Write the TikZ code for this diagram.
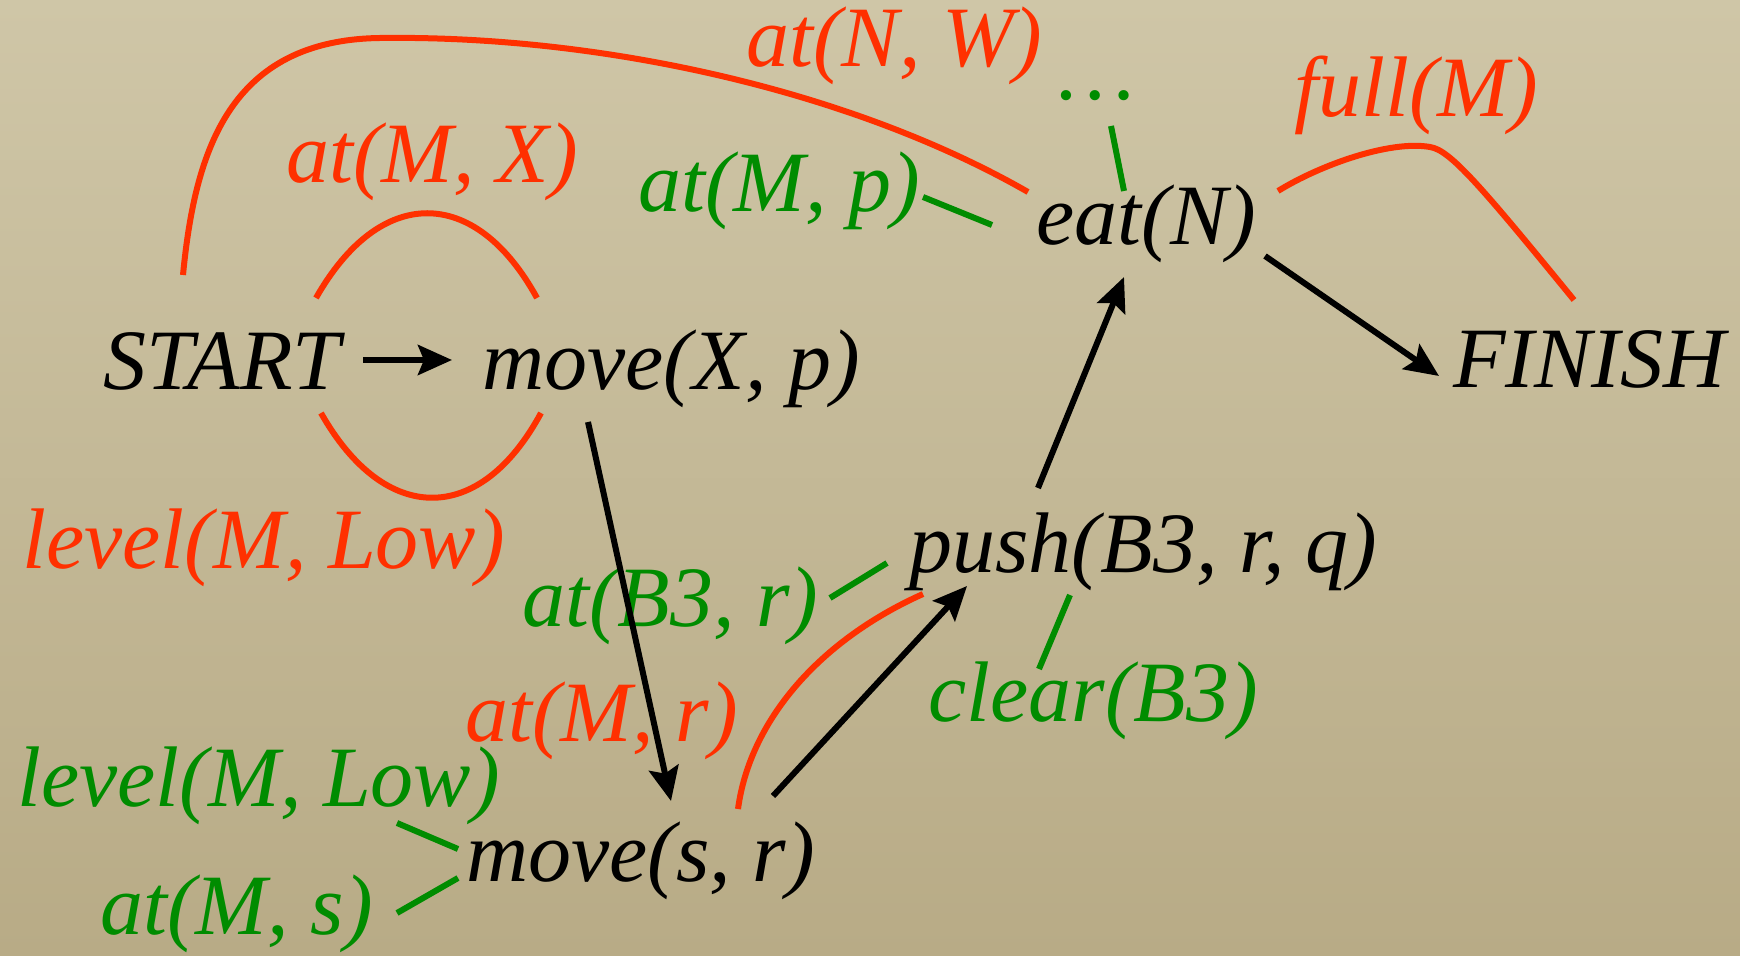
\documentclass[tikz,border=0pt]{standalone}
\usepackage{fontspec}
\setmainfont{Liberation Serif}
\usetikzlibrary{arrows.meta,calc}
\definecolor{bgtop}{RGB}{207,198,167}
\definecolor{bgbot}{RGB}{184,171,134}
\definecolor{threat}{RGB}{255,48,0}
\definecolor{precond}{RGB}{0,140,0}

\begin{document}
\begin{tikzpicture}[x=0.5pt,y=-0.5pt,
  txt/.style={anchor=base west,inner sep=0pt,font=\fontsize{43}{50}\selectfont\itshape},
  stepnode/.style={txt,text=black},
  redlbl/.style={txt,text=threat},
  grnlbl/.style={txt,text=precond},
  ord/.style={line width=3pt,-{Stealth[length=17pt,width=15pt,inset=3pt]}},
  causal/.style={line width=3pt,draw=threat},
  pre/.style={line width=3pt,draw=precond}]

% paper background
\shade[top color=bgtop,bottom color=bgbot] (0,0) rectangle (1740,956);
\useasboundingbox (0,0) rectangle (1740,956);

% plan steps
\node[stepnode] (start)   at (103,390) {START};
\node[stepnode] (movexp)  at (482,390) {move(X, p)};
\node[stepnode] (eat)     at (1036,245) {eat(N)};
\node[stepnode] (finish)  at (1453,388) {FINISH};
\node[stepnode] (push)    at (909,573) {push(B3, r, q)};
\node[stepnode] (moversr) at (466,881) {move(s, r)};

% causal-link conditions
\node[redlbl] (atMX)    at (286,183) {at(M, X)};
\node[redlbl] (lvlLowR) at (22,569)  {level(M, Low)};
\node[redlbl] (atNW)    at (746,67)  {at(N, W)};
\node[redlbl] (fullM)   at (1294,117) {full(M)};
\node[redlbl] (atMr)    at (465,741) {at(M, r)};

% open preconditions
\node[grnlbl] (atMp)    at (638,212) {at(M, p)};
\node[grnlbl] (dots)    at (1058,100) {\ldots};
\node[grnlbl] (atB3r)   at (522,626) {at(B3, r)};
\node[grnlbl] (clearB3) at (928,721) {clear(B3)};
\node[grnlbl] (lvlLowG) at (17,806)  {level(M, Low)};
\node[grnlbl] (atMs)    at (100,934) {at(M, s)};

% ordering constraints
\draw[ord] ($(start.base west)+(260,-30)$) -- ($(movexp.base west)+(-30,-30)$);
\draw[ord] ($(movexp.base west)+(106,32)$) -- ($(moversr.base west)+(205,-80)$);
\draw[ord] ($(moversr.base west)+(307,-85)$) -- ($(push.base west)+(58,13)$);
\draw[ord] ($(push.base west)+(129,-85)$) -- ($(eat.base west)+(88,32)$);
\draw[ord] ($(eat.base west)+(229,11)$) -- ($(finish.base west)+(-14,-12)$);

% causal links
\draw[causal] ($(start.base west)+(213,-92)$) .. controls (380,185) and (475,185) .. ($(movexp.base west)+(55,-92)$);
\draw[causal] ($(start.base west)+(218,23)$) .. controls (385,526) and (480,526) .. ($(movexp.base west)+(59,23)$);
\draw[causal] ($(start.base west)+(80,-115)$) .. controls (195,150) and (230,40) .. (380,38)
   .. controls (600,35) and (850,90) .. ($(eat.base west)+(-8,-53)$);
\draw[causal] ($(eat.base west)+(242,-54)$) .. controls (1320,165) and (1390,140) .. (1430,147)
   .. controls (1450,150) and (1480,185) .. ($(finish.base west)+(121,-88)$);
\draw[causal] ($(moversr.base west)+(272,-72)$) .. controls (750,720) and (820,640) .. ($(push.base west)+(14,21)$);

% precondition ties
\draw[pre] ($(atMp.base west)+(285,-15)$) -- ($(eat.base west)+(-44,-20)$);
\draw[pre] ($(dots.base west)+(53,26)$) -- ($(eat.base west)+(88,-54)$);
\draw[pre] ($(atB3r.base west)+(308,-28)$) -- ($(push.base west)+(-22,-10)$);
\draw[pre] ($(push.base west)+(161,22)$) -- ($(clearB3.base west)+(111,-52)$);
\draw[pre] ($(lvlLowG.base west)+(380,17)$) -- ($(moversr.base west)+(-8,-32)$);
\draw[pre] ($(atMs.base west)+(297,-21)$) -- ($(moversr.base west)+(-8,-3)$);
\end{tikzpicture}
\end{document}
